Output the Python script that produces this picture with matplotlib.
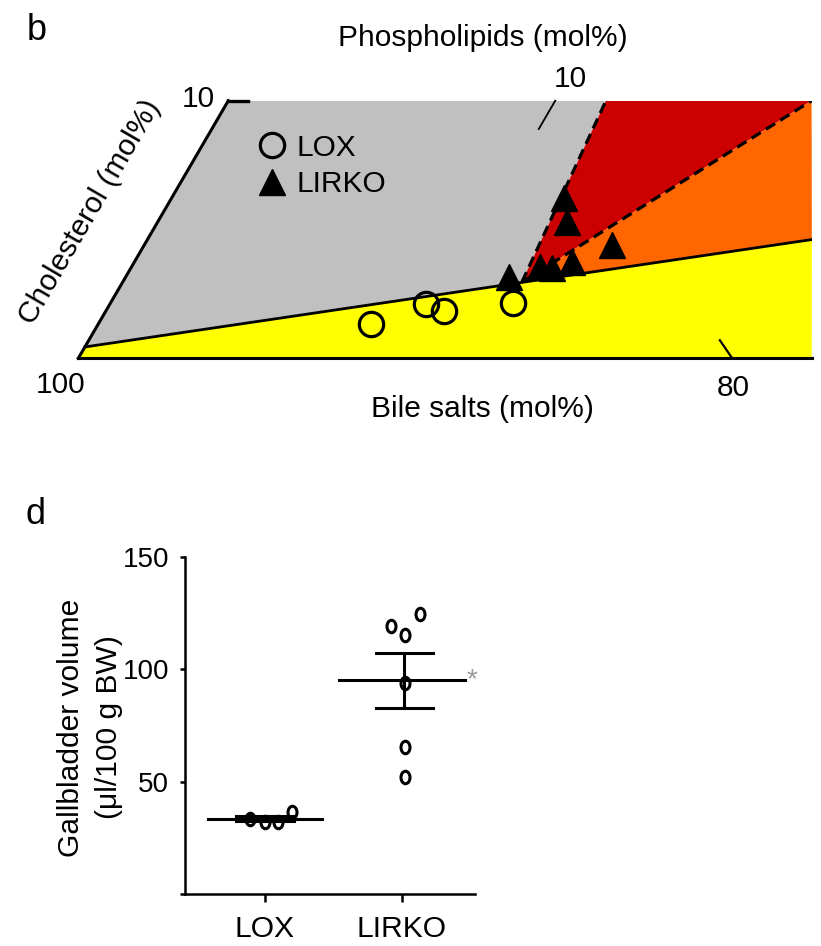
import matplotlib
matplotlib.use('Agg')
import matplotlib.pyplot as plt
import numpy as np
from matplotlib.path import Path
from matplotlib.transforms import Affine2D

plt.rcParams['font.family'] = ['Liberation Sans', 'DejaVu Sans']

# panel b: bile composition (mol%), bile salts = 100 - chol - pl
lox_chol = [1.32, 2.11, 1.85, 2.16]
lox_pl = [8.36, 9.66, 10.33, 12.31]
lirko_chol = [6.21, 5.30, 4.40, 3.75, 3.56, 3.49, 3.17]
lirko_pl = [12.02, 12.51, 14.29, 13.37, 12.49, 12.88, 11.73]

# phase boundaries (chol, pl) in mol%
micellar_chol = [0.44, 4.61]
micellar_pl = [0.0, 20.32]
triple_pt = (2.96, 12.21)
dash1_top = (10.0, 11.55)
dash2_top = (10.0, 17.84)
chol_max = 10.0
pl_max = 22.43

# panel d: gallbladder volume (ul/100 g BW)
groups = ['LOX', 'LIRKO']
lox_vol = [33.2, 32.1, 32.1, 36.6]
lirko_vol = [119.1, 115.1, 124.4, 93.6, 65.2, 52.1]

W, H = 821, 946
SKEW = 0.4587


def tern_xy(chol, pl):
    chol = np.asarray(chol, float)
    pl = np.asarray(pl, float)
    return pl + SKEW * chol, chol


def fx(x, y):
    return x / W, 1 - y / H


fig = plt.figure(figsize=(W / 100, H / 100), dpi=100)

#---- panel b ----
ax = fig.add_axes([78.3 / W, 1 - 358.3 / H, 733.4 / W, 257.6 / H])
ax.set_xlim(0, pl_max)
ax.set_ylim(0, chol_max)
ax.axis('off')

T = triple_pt
ax.fill(*tern_xy([0, 0, micellar_chol[1], micellar_chol[0]],
                 [0, pl_max, micellar_pl[1], micellar_pl[0]]), color='#ffff00', lw=0)
ax.fill(*tern_xy([micellar_chol[0], chol_max, dash1_top[0], T[0]],
                 [0, 0, dash1_top[1], T[1]]), color='#c0c0c0', lw=0)
ax.fill(*tern_xy([T[0], dash1_top[0], dash2_top[0]],
                 [T[1], dash1_top[1], dash2_top[1]]), color='#cc0000', lw=0)
ax.fill(*tern_xy([T[0], dash2_top[0], micellar_chol[1]],
                 [T[1], dash2_top[1], micellar_pl[1]]), color='#ff6600', lw=0)

ax.plot(*tern_xy(micellar_chol, micellar_pl), color='black', lw=2)
ax.plot(*tern_xy([T[0], dash1_top[0]], [T[1], dash1_top[1]]), color='black', lw=2.3,
        linestyle=(0, (3.4, 1.9)))
ax.plot(*tern_xy([T[0], dash2_top[0]], [T[1], dash2_top[1]]), color='black', lw=2.3,
        linestyle=(0, (3.4, 1.9)))
# triangle edges and ticks
ax.plot(*tern_xy([0, chol_max], [0, 0]), color='black', lw=2.2, clip_on=False)
ax.plot(*tern_xy([0, 0], [0, pl_max]), color='black', lw=2.2, clip_on=False)
ax.plot(*tern_xy([chol_max, chol_max], [0, 0.6]), color='black', lw=2.4, clip_on=False)
ax.plot(*tern_xy([chol_max, chol_max - 1.1], [10, 10]), color='black', lw=1.3, clip_on=False)
ax.plot(*tern_xy([0, 0.7], [20, 19.3]), color='black', lw=1.6, clip_on=False)

ax.plot(*tern_xy(lox_chol, lox_pl), linestyle='None', marker='o', ms=17.5, mfc='none',
        mec='black', mew=2.3, label='LOX', clip_on=False, zorder=5)
ax.plot(*tern_xy(lirko_chol, lirko_pl), linestyle='None', marker='^', ms=19, mfc='black',
        mec='black', mew=1, label='LIRKO', clip_on=False, zorder=5)
ax.legend(loc='upper left', bbox_to_anchor=(0.228, 0.918), frameon=False, fontsize=21.5,
          handlelength=1.0, handletextpad=0.3, labelspacing=0.28, borderaxespad=0,
          numpoints=1)

fig.text(*fx(37, 30), 'b', fontsize=26, ha='center', va='center')
fig.text(*fx(483, 38), 'Phospholipids (mol%)', fontsize=21.5, ha='center', va='center')
fig.text(*fx(482, 409), 'Bile salts (mol%)', fontsize=21.5, ha='center', va='center')
fig.text(*fx(90, 212), 'Cholesterol (mol%)', fontsize=21.5, ha='center', va='center',
         rotation=59.8, rotation_mode='anchor')
fig.text(*fx(61, 385), '100', fontsize=21.5, ha='center', va='center')
fig.text(*fx(733, 388), '80', fontsize=21.5, ha='center', va='center')
fig.text(*fx(198, 99), '10', fontsize=21.5, ha='center', va='center')
fig.text(*fx(570, 79), '10', fontsize=21.5, ha='center', va='center')

#---- panel d ----
bx = fig.add_axes([185 / W, 1 - 894 / H, 290 / W, 337.5 / H])
bx.set_xlim(-0.585, 1.536)
bx.set_ylim(0, 150)
for s in ['top', 'right']:
    bx.spines[s].set_visible(False)
for s in ['left', 'bottom']:
    bx.spines[s].set_linewidth(1.8)

oval = Path.unit_circle().transformed(Affine2D().scale(0.72, 1.0))
jitter = [[-0.110, 0.0, 0.093, 0.199], [-0.078, 0.026, 0.134, 0.026, 0.026, 0.026]]
mean_half = [0.42, 0.46]
err_center = [0.0, 1.02]
for i, vals in enumerate([lox_vol, lirko_vol]):
    vals = np.array(vals)
    m = vals.mean()
    sem = vals.std(ddof=1) / np.sqrt(len(vals))
    bx.plot(i + np.array(jitter[i]), vals, linestyle='None', marker=oval, ms=9,
            mfc='none', mec='black', mew=2.2, clip_on=False)
    bx.plot([i - mean_half[i], i + mean_half[i]], [m, m], color='black', lw=2.2)
    c = err_center[i]
    bx.plot([c, c], [m - sem, m + sem], color='black', lw=2.2)
    bx.plot([c - 0.21, c + 0.21], [m + sem, m + sem], color='black', lw=2.2)
    bx.plot([c - 0.21, c + 0.21], [m - sem, m - sem], color='black', lw=2.2)

bx.text(1.51, np.mean(lirko_vol), '*', color='#999999', fontsize=20, ha='center', va='center')

bx.set_xticks([0, 1])
bx.set_xticklabels(groups, fontsize=21.6)
bx.set_yticks([0, 50, 100, 150])
bx.set_yticklabels(['', '50', '100', '150'], fontsize=20)
bx.tick_params(axis='y', direction='out', length=3.6, width=1.8, pad=8)
bx.tick_params(axis='x', direction='out', length=5.8, width=1.8, pad=9)

fig.text(*fx(90, 727.5), 'Gallbladder volume\n(\u03bcl/100 g BW)', fontsize=21.6,
         ha='center', va='center', rotation=90, multialignment='center', linespacing=1.45)
fig.text(*fx(35, 515), 'd', fontsize=26, ha='center', va='center')

fig.savefig('out.png', dpi=100)
